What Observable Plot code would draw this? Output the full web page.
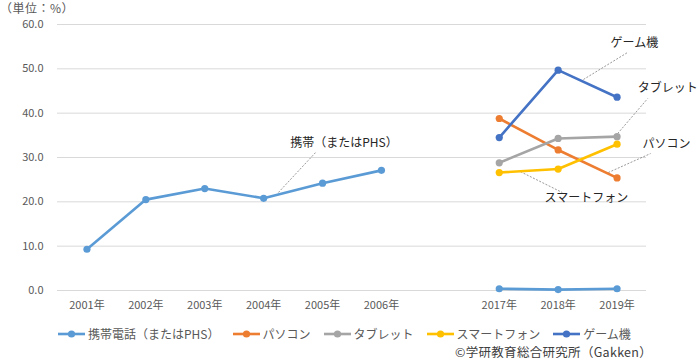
<!DOCTYPE html>
<html><head><meta charset="utf-8">
<script src="https://cdn.jsdelivr.net/npm/d3@7"></script>
<script src="https://cdn.jsdelivr.net/npm/@observablehq/plot@0.6"></script>
<style>
body{margin:0;background:#fff;font-family:"Noto Sans CJK JP","Noto Sans",sans-serif;color:#595959;width:698px}
#unit{height:15px;padding-top:1px;line-height:13px;font-size:12px;margin-left:0;color:#595959;letter-spacing:0.5px}
#legend{display:flex;align-items:center;height:16px;line-height:16px;margin-top:6px;padding-left:58px;font-size:12px;color:#595959}
#legend .it{display:flex;align-items:center;margin-right:13px}
#legend svg{margin-right:3px}
#copy{font-size:12.5px;line-height:13px;color:#404040;padding-left:455px;margin-top:3px;letter-spacing:0.3px}
</style></head>
<body>
<div id="unit">（単位：%）</div>
<div id="chart"></div>
<div id="legend"></div>
<div id="copy">©学研教育総合研究所（Gakken）</div>
<script>
const years = ["2001年","2002年","2003年","2004年","2005年","2006年","","2017年","2018年","2019年"];
const seriesNames = ["携帯電話（またはPHS）","パソコン","タブレット","スマートフォン","ゲーム機"];
const colors = ["#5B9BD5","#ED7D31","#A5A5A5","#FFC000","#4472C4"];
const phone  = [9.3,20.5,23.0,20.8,24.2,27.1,null,0.4,0.2,0.4];
const pc     = [null,null,null,null,null,null,null,38.8,31.7,25.4];
const tablet = [null,null,null,null,null,null,null,28.8,34.3,34.7];
const smart  = [null,null,null,null,null,null,null,26.6,27.4,33.0];
const game   = [null,null,null,null,null,null,null,34.5,49.7,43.6];
const yTicks = [0,10,20,30,40,50,60];

// annotation labels with leader lines (data units: x = category index, y = percent)
const annoText = ["携帯（またはPHS）","ゲーム機","タブレット","パソコン","スマートフォン"];
const annoTx = [3.45,8.89,9.35,9.43,7.77];
const annoTy = [33.2,55.7,45.6,32.9,20.8];
const leadX1 = [3.25,8.43,9.01,8.85,7.36];
const leadY1 = [22.1,47.6,35.4,26.6,26.8];
const leadX2 = [3.88,9.18,9.52,9.57,8.07];
const leadY2 = [31.1,53.7,43.3,30.9,22.1];

const allSeries = [phone,pc,tablet,smart,game];
const rows = [];
allSeries.forEach((vals,s)=>vals.forEach((v,i)=>rows.push({s:seriesNames[s],i,v})));
const annos = annoText.map((t,k)=>({t,x:annoTx[k],y:annoTy[k],x1:leadX1[k],y1:leadY1[k],x2:leadX2[k],y2:leadY2[k]}));

const chart = Plot.plot({
  width:698, height:304,
  marginLeft:57, marginRight:52, marginTop:8, marginBottom:30,
  style:{fontFamily:"'Noto Sans CJK JP','Noto Sans',sans-serif",fontSize:"11px",color:"#595959",background:"#fff"},
  x:{domain:[-0.5,9.5]},
  y:{domain:[0,60]},
  color:{domain:seriesNames,range:colors},
  marks:[
    Plot.gridY(yTicks,{stroke:"#d9d9d9",strokeOpacity:1}),
    Plot.axisY(yTicks,{tickSize:0,tickPadding:14,tickFormat:d=>d.toFixed(1),label:null,fill:"#595959"}),
    Plot.axisX(d3.range(years.length),{tickSize:0,tickPadding:11,tickFormat:i=>years[i],label:null,fill:"#595959"}),
    Plot.link(annos,{x1:"x1",y1:"y1",x2:"x2",y2:"y2",stroke:"#7f7f7f",strokeWidth:0.8,strokeDasharray:"2,1.5"}),
    Plot.line(rows,{x:"i",y:"v",z:"s",stroke:"s",strokeWidth:2.6,curve:"linear"}),
    Plot.dot(rows.filter(d=>d.v!=null),{x:"i",y:"v",fill:"s",r:3.6}),
    Plot.text(annos,{x:"x",y:"y",text:"t",textAnchor:"start",fill:"#262626",fontSize:12})
  ]
});
document.getElementById("chart").appendChild(chart);

const lg = document.getElementById("legend");
seriesNames.forEach((n,k)=>{
  const it=document.createElement("div");it.className="it";
  it.innerHTML=`<svg width="27" height="10"><line x1="0" y1="5" x2="27" y2="5" stroke="${colors[k]}" stroke-width="2.6"/><circle cx="13.5" cy="5" r="3.6" fill="${colors[k]}"/></svg><span>${n}</span>`;
  lg.appendChild(it);
});
</script>
</body></html>
